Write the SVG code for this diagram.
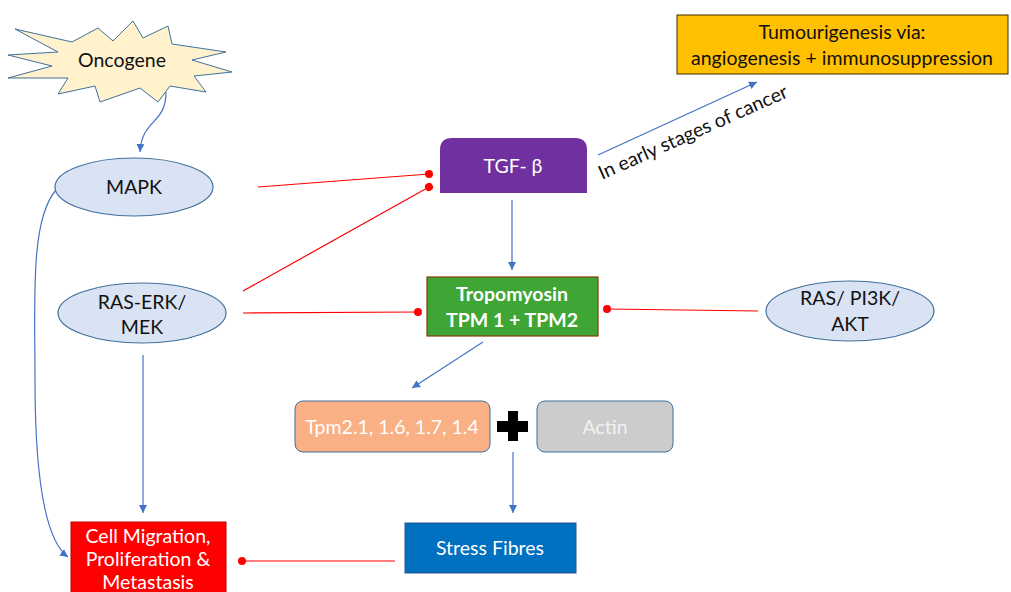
<svg xmlns="http://www.w3.org/2000/svg" width="1011" height="592" viewBox="0 0 1011 592">
<style>
text{font-family:Lato,"Liberation Sans",sans-serif;font-size:19.5px;text-anchor:middle}
.ell{fill:#DAE3F3;stroke:#41719C;stroke-width:1.2}
.blk{fill:#111}
.wht{fill:#fff}
.blue{stroke:#4472C4;stroke-width:1.2;fill:none}
.red{stroke:#FF0000;stroke-width:1.2;fill:none}
</style>
<defs>
<marker id="arr" markerUnits="userSpaceOnUse" markerWidth="10" markerHeight="10" refX="8" refY="4" orient="auto">
<path d="M0,0 L8,4 L0,8 Z" fill="#4472C4"/>
</marker>
<marker id="dot" markerUnits="userSpaceOnUse" markerWidth="10" markerHeight="10" refX="5" refY="5" orient="auto">
<circle cx="5" cy="5" r="4" fill="#FF0000"/>
</marker>
</defs>
<rect width="1011" height="592" fill="#fff"/>

<g id="connectors">
<path class="blue" d="M166,92 C166,125 142,118 140,152" marker-end="url(#arr)"/>
<path class="blue" d="M56,190 C30,220 35,300 35,380 C35,480 45,540 68,557" marker-end="url(#arr)"/>
<line class="blue" x1="143" y1="355" x2="143" y2="513" marker-end="url(#arr)"/>
<line class="blue" x1="598" y1="155" x2="757" y2="82" marker-end="url(#arr)"/>
<line class="blue" x1="512" y1="200" x2="512" y2="270" marker-end="url(#arr)"/>
<line class="blue" x1="483" y1="342" x2="412" y2="388" marker-end="url(#arr)"/>
<line class="blue" x1="513" y1="452" x2="513" y2="513" marker-end="url(#arr)"/>
<line class="red" x1="258" y1="187" x2="429" y2="174" marker-end="url(#dot)"/>
<line class="red" x1="243" y1="291" x2="429" y2="187" marker-end="url(#dot)"/>
<line class="red" x1="243" y1="313" x2="418" y2="312" marker-end="url(#dot)"/>
<line class="red" x1="758" y1="311" x2="607" y2="309" marker-end="url(#dot)"/>
<line class="red" x1="395" y1="561" x2="242" y2="561" marker-end="url(#dot)"/>
<text transform="translate(602,180) rotate(-24)" style="text-anchor:start;font-size:19.5px" class="blk">In early stages of cancer</text>
</g>

<g id="oncogene">
<polygon points="15,29 72,42 98,28 113,41 133,21 143,38 168,26 172,44 226,52 192,60 232,72 194,76 206,92 170,86 158,102 140,88 100,102 95,86 58,94 68,78 8,78 52,66 8,55 58,52" fill="#FFF2CC" stroke="#41719C" stroke-width="1"/>
<text x="122" y="67" class="blk">Oncogene</text>
</g>

<g id="mapk">
<ellipse class="ell" cx="134" cy="187" rx="79" ry="29"/>
<text x="134" y="194" class="blk">MAPK</text>
</g>

<g id="ras-erk">
<ellipse class="ell" cx="142" cy="313" rx="84" ry="30"/>
<text x="142" y="309" class="blk">RAS-ERK/</text>
<text x="142" y="334" class="blk">MEK</text>
</g>

<g id="ras-pi3k">
<ellipse class="ell" cx="850" cy="311" rx="84" ry="30"/>
<text x="850" y="305" class="blk">RAS/ PI3K/</text>
<text x="850" y="331" class="blk">AKT</text>
</g>

<g id="tgf">
<path d="M440,193 V150 Q440,138 452,138 H575 Q587,138 587,150 V193 Z" fill="#7030A0"/>
<text x="513" y="173" class="wht">TGF- β</text>
</g>

<g id="tumour">
<rect x="677" y="15" width="331" height="59" fill="#FFC000" stroke="#3a2c00" stroke-width="1"/>
<text x="842" y="39" class="blk">Tumourigenesis via:</text>
<text x="842" y="65" class="blk">angiogenesis + immunosuppression</text>
</g>

<g id="tropomyosin">
<rect x="427" y="277" width="171" height="59" fill="#3FA535" stroke="#843C0C" stroke-width="1.2"/>
<text x="512" y="301" class="wht" style="font-weight:bold">Tropomyosin</text>
<text x="512" y="327" class="wht" style="font-weight:bold">TPM 1 + TPM2</text>
</g>

<g id="tpm">
<rect x="295" y="401" width="195" height="51" rx="8" fill="#F8B084" stroke="#41719C" stroke-width="1"/>
<text x="392" y="434" class="wht">Tpm2.1, 1.6, 1.7, 1.4</text>
</g>

<g id="plus">
<rect x="497" y="421" width="31" height="11" fill="#000"/>
<rect x="508" y="411" width="10" height="30" fill="#000"/>
</g>

<g id="actin">
<rect x="537" y="401" width="136" height="51" rx="8" fill="#CCCCCC" stroke="#41719C" stroke-width="1"/>
<text x="605" y="434" style="fill:#f2f2f2">Actin</text>
</g>

<g id="stress-fibres">
<rect x="405" y="523" width="171" height="50" fill="#0070C0" stroke="#2F528F" stroke-width="1"/>
<text x="490" y="555" class="wht">Stress Fibres</text>
</g>

<g id="cell-migration">
<rect x="71" y="522" width="155" height="80" fill="#FF0000" stroke="#C00000" stroke-width="1"/>
<text x="148" y="543" class="wht">Cell Migration,</text>
<text x="148" y="566" class="wht">Proliferation &amp;</text>
<text x="148" y="589" class="wht">Metastasis</text>
</g>
</svg>
